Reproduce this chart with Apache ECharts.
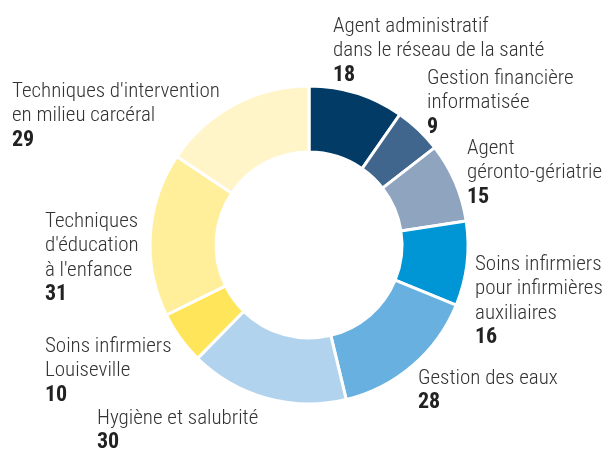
<!DOCTYPE html>
<html><head><meta charset="utf-8">
<script src="https://cdn.jsdelivr.net/npm/echarts@6/dist/echarts.min.js"></script>
<style>html,body{margin:0;padding:0;background:#fff}#c{width:611px;height:451px}</style>
</head><body><div id="c"></div>
<script>
const categories = [
  "Agent administratif\ndans le réseau de la santé",
  "Gestion financière\ninformatisée",
  "Agent\ngéronto-gériatrie",
  "Soins infirmiers\npour infirmières\nauxiliaires",
  "Gestion des eaux",
  "Hygiène et salubrité",
  "Soins infirmiers\nLouiseville",
  "Techniques\nd'éducation\nà l'enfance",
  "Techniques d'intervention\nen milieu carcéral"
];
const values = [18, 9, 15, 16, 28, 30, 10, 31, 29];
const colors = ["#023c66", "#41668e", "#8fa5bf", "#0096d6", "#68b0e0", "#b2d3ee", "#ffe55a", "#ffee9a", "#fff5c9"];
// label anchor (left, top) positions
const labelPos = [[333, 14], [427, 66], [467, 136], [475, 252], [418, 366], [97, 406], [45, 334], [45, 209], [12, 79]];

const FONT = '"Roboto Condensed", "Liberation Sans Narrow", sans-serif';
const chart = echarts.init(document.getElementById('c'), null, {renderer: 'canvas'});
chart.setOption({
  animation: false,
  series: [{
    type: 'pie',
    center: [309, 245],
    radius: [93, 159],
    startAngle: 90,
    clockwise: true,
    itemStyle: {borderColor: '#fff', borderWidth: 3},
    emphasis: {disabled: true},
    labelLine: {show: false},
    label: {
      show: true,
      position: 'outside',
      overflow: 'none',
      formatter: p => p.name.split('\n').map(l => '{n|' + l + '}').join('\n') + '\n{v|' + p.value + '}',
      rich: {
        n: {fontFamily: FONT, fontSize: 21, lineHeight: 24.5, fontWeight: 300, color: '#333'},
        v: {fontFamily: FONT, fontSize: 22, lineHeight: 24.5, fontWeight: 'bold', color: '#222'}
      }
    },
    labelLayout: p => ({x: labelPos[p.dataIndex][0], y: labelPos[p.dataIndex][1], align: 'left', verticalAlign: 'top', hideOverlap: false, moveOverlap: null}),
    data: categories.map((c, i) => ({name: c, value: values[i], itemStyle: {color: colors[i]}}))
  }]
});
</script></body></html>
